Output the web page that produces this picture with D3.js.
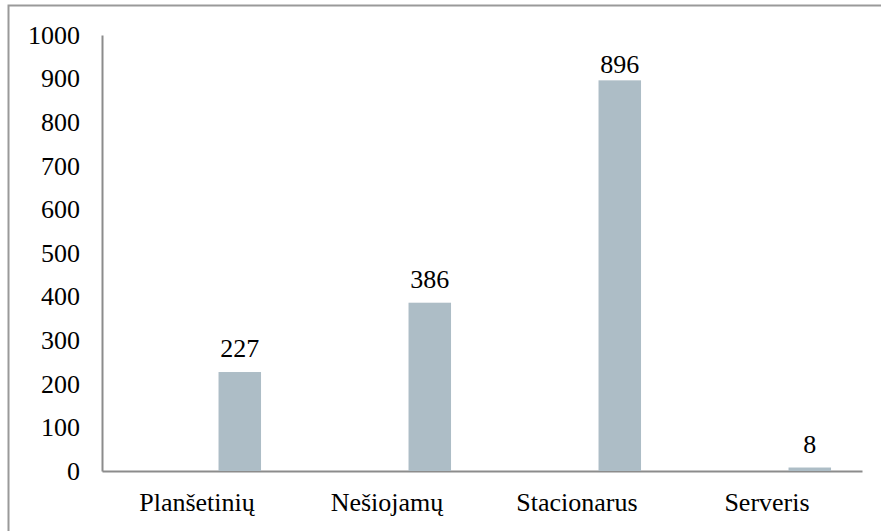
<!DOCTYPE html>
<html>
<head>
<meta charset="utf-8">
<script src="https://cdn.jsdelivr.net/npm/d3@7"></script>
</head>
<body style="margin:0">
<script>
// chart data
const categories = ["Planšetinių", "Nešiojamų", "Stacionarus", "Serveris"];
const seriesNames = ["empty", "count"];
const emptyValues = [0, 0, 0, 0];
const countValues = [227, 386, 896, 8];
const yTicks = [0, 100, 200, 300, 400, 500, 600, 700, 800, 900, 1000];

const W = 881, H = 531;

const svg = d3.select("body").append("svg")
    .attr("width", W)
    .attr("height", H);

// outer frame (runs past the right / bottom edge)
svg.append("rect")
    .attr("x", 8.5).attr("y", 5.5)
    .attr("width", 1000).attr("height", 1000)
    .attr("fill", "none")
    .attr("stroke", "#9a9a9a")
    .attr("stroke-width", 2);

const mLeft = 102, mRight = 862, mTop = 35, mBottom = 471;

const x = d3.scaleBand().domain(categories).range([mLeft, mRight]).padding(0);
const xs = d3.scaleBand().domain(seriesNames).range([0, x.bandwidth()])
    .paddingInner(0).paddingOuter(1.235).align(0.705);
const y = d3.scaleLinear().domain([0, 1000]).range([mBottom, mTop]);

const rows = categories.map((c, i) => ({ cat: c, empty: emptyValues[i], count: countValues[i] }));

// y axis
const yAxis = svg.append("g")
    .attr("transform", "translate(" + mLeft + ",0)")
    .call(d3.axisLeft(y).tickValues(yTicks).tickFormat(d3.format("d")).tickSize(0).tickPadding(22));
yAxis.attr("font-family", null).attr("font-size", null);
yAxis.select(".domain").attr("stroke", "#8c8c8c").attr("stroke-width", 2);
yAxis.selectAll("text")
    .attr("font-family", "Liberation Serif")
    .attr("font-size", 26)
    .attr("fill", "#000");

// x axis
const xAxis = svg.append("g")
    .attr("transform", "translate(0," + mBottom + ")")
    .call(d3.axisBottom(x).tickSize(0).tickPadding(22));
xAxis.attr("font-family", null).attr("font-size", null);
xAxis.select(".domain").attr("stroke", "#8c8c8c").attr("stroke-width", 2);
xAxis.selectAll("text")
    .attr("font-family", "Liberation Serif")
    .attr("font-size", 26)
    .attr("fill", "#000");

// bars (first series is empty, so only the second one shows)
svg.append("g").selectAll("rect")
    .data(rows)
    .enter().append("rect")
    .attr("x", d => x(d.cat) + xs("count"))
    .attr("y", d => y(d.count))
    .attr("width", xs.bandwidth())
    .attr("height", d => y(0) - y(d.count))
    .attr("fill", "#adbdc6");

// value labels, kept inside the plot area like the original
svg.append("g").selectAll("text")
    .data(rows)
    .enter().append("text")
    .attr("x", d => x(d.cat) + xs("count") + xs.bandwidth() / 2)
    .attr("y", d => Math.max(y(d.count) - 15, mTop + 38))
    .attr("text-anchor", "middle")
    .attr("font-family", "Liberation Serif")
    .attr("font-size", 26)
    .attr("fill", "#000")
    .text(d => d.count);
</script>
</body>
</html>
